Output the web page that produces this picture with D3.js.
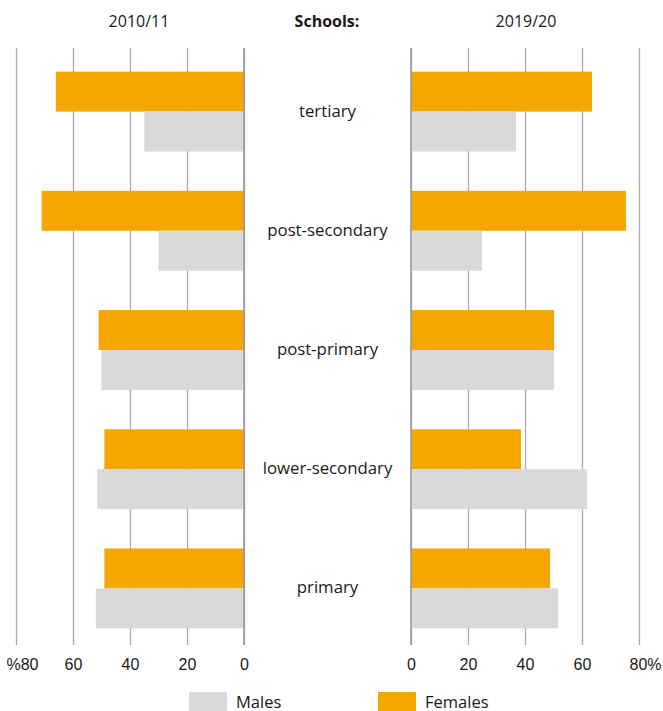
<!DOCTYPE html>
<html>
<head>
<meta charset="utf-8">
<script src="https://cdn.jsdelivr.net/npm/d3@7"></script>
<style>
  html, body { margin: 0; padding: 0; background: #fff; }
  svg { display: block; font-family: "Open Sans", "Noto Sans", sans-serif; }
</style>
</head>
<body>
<svg id="chart" width="663" height="711"></svg>
<script>
// ---- data ----
const categories = ["tertiary", "post-secondary", "post-primary", "lower-secondary", "primary"];
const females2010 = [66, 71, 51, 49, 49];
const males2010   = [35, 30, 50, 51.5, 52];
const females2019 = [63.5, 75.4, 50.2, 38.6, 48.8];
const males2019   = [36.8, 24.9, 50.2, 61.8, 51.6];
const tickValues = [0, 20, 40, 60, 80];
const seriesNames = ["Females", "Males"];
const legendLabels = ["Males", "Females"];
const headerLeft = "2010/11";
const headerMid = "Schools:";
const headerRight = "2019/20";

const colors = { Females: "#F3A700", Males: "#D9D9D9" };

const svg = d3.select("#chart");
const gridTop = 48, gridBottom = 645;

const y = d3.scaleBand().domain(categories).range([52, 648]).paddingInner(0.33).paddingOuter(0.165);
const ySub = d3.scaleBand().domain(seriesNames).range([0, y.bandwidth()]);

const xL = d3.scaleLinear().domain([0, 80]).range([244, 16]);
const xR = d3.scaleLinear().domain([0, 80]).range([411, 639]);

function panel(x, fem, mal, leftSide) {
  const g = svg.append("g");
  const axis = d3.axisBottom(x).tickValues(tickValues)
    .tickSize(-(gridBottom - gridTop)).tickPadding(14)
    .tickFormat(d => d === 80 ? (leftSide ? "%80" : "80%") : d);
  const ag = g.append("g").attr("transform", `translate(0,${gridBottom})`).call(axis);
  ag.select(".domain").remove();
  ag.selectAll(".tick line").attr("stroke", "#ababab").attr("stroke-width", 1.3);
  ag.selectAll(".tick text").attr("fill", "#1a1a1a").attr("font-size", 16)
    .attr("dx", d => d === 80 ? 6 : 0);

  const rows = categories.map((c, i) => ({ c, Females: fem[i], Males: mal[i] }));
  seriesNames.forEach(s => {
    g.selectAll(null).data(rows).enter().append("rect")
      .attr("x", d => Math.min(x(0), x(d[s])))
      .attr("width", d => Math.abs(x(d[s]) - x(0)))
      .attr("y", d => y(d.c) + ySub(s))
      .attr("height", ySub.bandwidth())
      .attr("fill", colors[s]);
  });
  g.append("line").attr("x1", x(0)).attr("x2", x(0)).attr("y1", gridTop).attr("y2", gridBottom)
    .attr("stroke", "#9a9a9a").attr("stroke-width", 1.6);
}

panel(xL, females2010, males2010, true);
panel(xR, females2019, males2019, false);

svg.append("g").selectAll("text").data(categories).enter().append("text")
  .attr("x", 327.5).attr("y", d => y(d) + y.bandwidth() / 2 + 5)
  .attr("text-anchor", "middle").attr("font-size", 16.8).attr("fill", "#1a1a1a")
  .text(d => d);

svg.append("text").attr("x", 139).attr("y", 27).attr("text-anchor", "middle")
  .attr("font-size", 16).attr("fill", "#1a1a1a").text(headerLeft);
svg.append("text").attr("x", 327).attr("y", 27).attr("text-anchor", "middle")
  .attr("font-size", 16).attr("font-weight", "bold").attr("fill", "#1a1a1a").text(headerMid);
svg.append("text").attr("x", 526).attr("y", 27).attr("text-anchor", "middle")
  .attr("font-size", 16).attr("fill", "#1a1a1a").text(headerRight);

const legendX = d3.scalePoint().domain(legendLabels).range([189, 378]);
const lg = svg.append("g").selectAll("g").data(legendLabels).enter().append("g")
  .attr("transform", d => `translate(${legendX(d)},692)`);
lg.append("rect").attr("width", 38).attr("height", 19).attr("fill", d => colors[d]);
lg.append("text").attr("x", 47).attr("y", 15.5).attr("font-size", 16.5).attr("fill", "#1a1a1a").text(d => d);
</script>
</body>
</html>
